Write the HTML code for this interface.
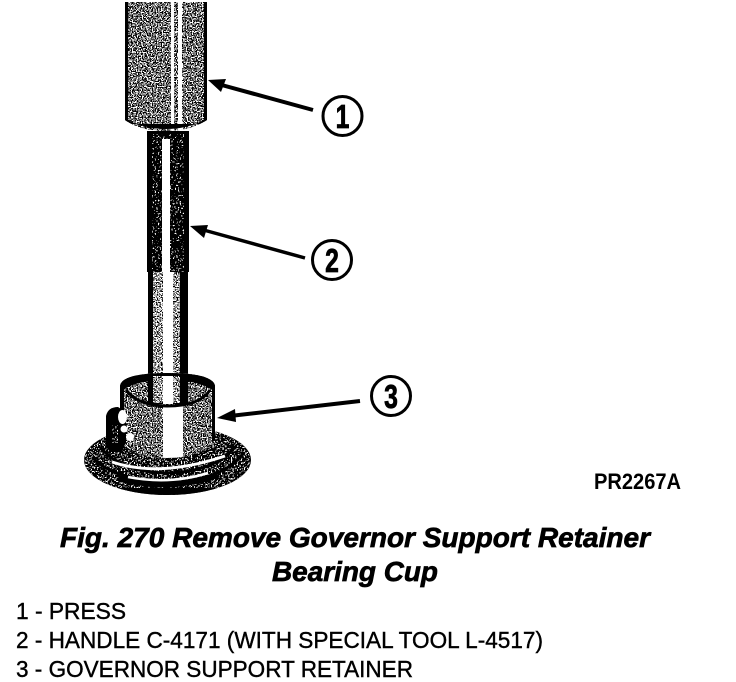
<!DOCTYPE html>
<html><head><meta charset="utf-8"><style>
html,body{margin:0;padding:0;background:#fff}
svg{display:block}
text{font-family:"Liberation Sans",sans-serif;fill:#000}
</style></head><body>
<svg width="736" height="682" viewBox="0 0 736 682" xmlns="http://www.w3.org/2000/svg">
<defs>
<filter id="n50" x="0" y="0" width="100%" height="100%" color-interpolation-filters="sRGB">
<feTurbulence type="fractalNoise" baseFrequency="0.8" numOctaves="1" seed="4"/>
<feColorMatrix type="matrix" values="0 0 0 0 0  0 0 0 0 0  0 0 0 0 0  1 0 0 0 0"/>
<feComponentTransfer><feFuncA type="linear" slope="30" intercept="-14.2"/></feComponentTransfer>
</filter>
<filter id="n35" x="0" y="0" width="100%" height="100%" color-interpolation-filters="sRGB">
<feTurbulence type="fractalNoise" baseFrequency="0.8" numOctaves="1" seed="7"/>
<feColorMatrix type="matrix" values="0 0 0 0 0  0 0 0 0 0  0 0 0 0 0  1 0 0 0 0"/>
<feComponentTransfer><feFuncA type="linear" slope="30" intercept="-15.2"/></feComponentTransfer>
</filter>
<filter id="n20" x="0" y="0" width="100%" height="100%" color-interpolation-filters="sRGB">
<feTurbulence type="fractalNoise" baseFrequency="0.7" numOctaves="1" seed="9"/>
<feColorMatrix type="matrix" values="0 0 0 0 1  0 0 0 0 1  0 0 0 0 1  1 0 0 0 0"/>
<feComponentTransfer><feFuncA type="linear" slope="30" intercept="-17"/></feComponentTransfer>
</filter>
<filter id="n10" x="0" y="0" width="100%" height="100%" color-interpolation-filters="sRGB">
<feTurbulence type="fractalNoise" baseFrequency="0.6" numOctaves="1" seed="12"/>
<feColorMatrix type="matrix" values="0 0 0 0 1  0 0 0 0 1  0 0 0 0 1  1 0 0 0 0"/>
<feComponentTransfer><feFuncA type="linear" slope="30" intercept="-18.6"/></feComponentTransfer>
</filter>
<clipPath id="press"><path d="M125 2H207V120Q190 131 166 131Q140 131 125 120Z"/></clipPath>
<clipPath id="cup"><path d="M120 386Q122 373 167 373Q213 373 215 386V440Q200 458 167 458Q132 458 120 442Z"/></clipPath>
<clipPath id="flange"><ellipse cx="167.500" cy="460" rx="83" ry="35"/></clipPath>
</defs>

<!-- press -->
<g clip-path="url(#press)">
<rect x="120" y="0" width="90" height="135" fill="#000" filter="url(#n50)"/>
<rect x="171" y="2" width="3" height="130" fill="#fff"/>
<rect x="178" y="2" width="4" height="130" fill="#fff"/>
<rect x="125" y="0" width="3" height="135" fill="#000"/>
<rect x="204" y="0" width="3" height="135" fill="#000"/>
<path d="M125 118Q142 129 166 129Q190 129 207 118V124H125Z" fill="#000"/>
</g>

<!-- shaft -->
<rect x="147" y="131" width="42" height="141" fill="#000"/>
<rect x="152" y="134" width="32" height="140" fill="#fff" filter="url(#n10)"/>
<rect x="162" y="139" width="8" height="135" fill="#fff"/>
<rect x="148" y="272" width="40" height="110" fill="#000"/>
<rect x="153" y="272" width="27" height="110" fill="#fff"/>
<rect x="153" y="272" width="27" height="110" fill="#000" filter="url(#n35)"/>
<rect x="163" y="272" width="10" height="110" fill="#fff"/>

<!-- flange -->
<ellipse cx="167.500" cy="460" rx="83.500" ry="35" fill="#000"/>
<g clip-path="url(#flange)">
<rect x="84" y="425" width="167" height="70" fill="#fff" filter="url(#n20)"/>
<path d="M92 457Q110 478 167 483Q225 480 244 452" fill="none" stroke="#000" stroke-width="3"/>
<path d="M100 447Q120 472 167 473Q215 472 236 446" fill="none" stroke="#000" stroke-width="3"/>
<path d="M112 462Q160 478 225 456" fill="none" stroke="#fff" stroke-width="3"/>
<path d="M118 478Q168 492 218 475" fill="none" stroke="#000" stroke-width="6"/>
<path d="M128 477Q170 485 208 473" fill="none" stroke="#fff" stroke-width="2.500"/>
<rect x="84" y="488" width="167" height="8" fill="#000"/>
</g>

<!-- cup -->
<g clip-path="url(#cup)">
<rect x="118" y="370" width="100" height="90" fill="#fff"/>
<rect x="118" y="370" width="100" height="90" fill="#000" filter="url(#n50)"/>
<path d="M120 372H215V392Q200 380 167 380Q135 380 120 392Z" fill="#000"/>
<rect x="163" y="405" width="20" height="53" fill="#fff"/>
<rect x="120" y="373" width="4" height="85" fill="#000"/>
<rect x="212" y="373" width="3" height="85" fill="#000"/>
<path d="M120 442Q135 458 167 458Q200 458 215 440V460H120Z" fill="#000"/>
</g>
<path d="M126 390Q138 406 167 406Q200 406 210 390" fill="none" stroke="#000" stroke-width="3"/>
<rect x="148" y="376" width="40" height="28" fill="#000"/>
<rect x="153" y="376" width="27" height="27" fill="#fff"/>
<rect x="153" y="376" width="27" height="27" fill="#000" filter="url(#n35)"/>
<rect x="163" y="376" width="10" height="28" fill="#fff"/>

<!-- side fitting -->
<path d="M106 447V416Q108 407 118 407L126 412V442L122 452H110Z" fill="#000"/>
<ellipse cx="122.500" cy="417" rx="4.500" ry="7" fill="#fff"/>
<circle cx="124" cy="429" r="3.500" fill="#fff"/>
<circle cx="130" cy="437" r="4" fill="#fff"/>
<rect x="112" y="425" width="6" height="18" fill="#fff" filter="url(#n20)"/>

<!-- arrows -->
<g stroke="#000" fill="#000">
<line x1="313" y1="110" x2="218" y2="84" stroke-width="4"/>
<path d="M208 80L226 79L221 92Z" stroke="none"/>
<line x1="305" y1="258" x2="200" y2="229" stroke-width="3.500"/>
<path d="M190 226L208 225L204 238Z" stroke="none"/>
<line x1="360" y1="401" x2="230" y2="416" stroke-width="4"/>
<path d="M217 418L235 409L236 422Z" stroke="none"/>
</g>

<!-- callouts -->
<g fill="#fff" stroke="#000" stroke-width="3">
<circle cx="342.500" cy="116" r="19.500"/>
<circle cx="332" cy="260" r="19.500"/>
<circle cx="391" cy="396" r="19.500"/>
</g>
<g font-size="33" font-weight="700" text-anchor="middle" stroke="#000" stroke-width=".8">
<text transform="translate(342.500 128) scale(.75 1)">1</text>
<text transform="translate(332 272) scale(.75 1)">2</text>
<text transform="translate(391 408) scale(.75 1)">3</text>
</g>

<text x="594" y="489" font-size="22" font-weight="700" textLength="87" lengthAdjust="spacingAndGlyphs">PR2267A</text>

<g font-size="28" font-weight="700" font-style="italic" stroke="#000" stroke-width=".7">
<text x="60" y="547" textLength="590" lengthAdjust="spacingAndGlyphs">Fig. 270 Remove Governor Support Retainer</text>
<text x="272" y="581" textLength="166" lengthAdjust="spacingAndGlyphs">Bearing Cup</text>
</g>
<g font-size="23" stroke="#000" stroke-width=".4">
<text x="16" y="619" textLength="110" lengthAdjust="spacingAndGlyphs">1 - PRESS</text>
<text x="16" y="648" textLength="527" lengthAdjust="spacingAndGlyphs">2 - HANDLE C-4171 (WITH SPECIAL TOOL L-4517)</text>
<text x="16" y="677" textLength="397" lengthAdjust="spacingAndGlyphs">3 - GOVERNOR SUPPORT RETAINER</text>
</g>
</svg>
</body></html>
